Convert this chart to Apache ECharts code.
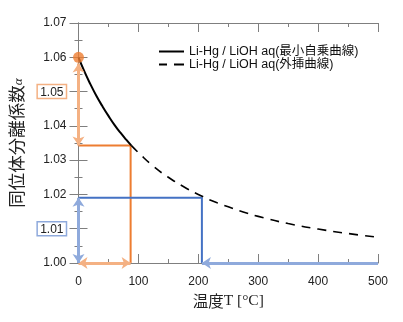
<!DOCTYPE html>
<html><head><meta charset="utf-8">
<script src="https://cdn.jsdelivr.net/npm/echarts@6/dist/echarts.min.js"></script>
<style>html,body{margin:0;padding:0;background:#fff}#c{width:403px;height:322px}</style>
</head><body><div id="c"></div>
<script>
// ---- data ----
const solidT = [0, 10, 20, 30, 40, 50, 60, 70, 80, 88];
const solidA = [1.0600, 1.0558, 1.0521, 1.0487, 1.0457, 1.0429, 1.0403, 1.0380, 1.0359, 1.0343];
const dashT = [88, 100, 125, 150, 175, 200, 225, 250, 275, 300, 350, 400, 450, 500];
const dashA = [1.0343, 1.0322, 1.0282, 1.0250, 1.0223, 1.0200, 1.0180, 1.0164, 1.0149, 1.0136, 1.0115, 1.0099, 1.0086, 1.0075];
const orangeT = [0, 87, 87];
const orangeA = [1.0343, 1.0343, 1.00];
const blueT = [0, 206, 206];
const blueA = [1.019, 1.019, 1.00];
const dotT = [0];
const dotA = [1.06];
const xTicks = [0, 100, 200, 300, 400, 500];
const yTicks = ['1.00', '1.01', '1.02', '1.03', '1.04', '1.05', '1.06', '1.07'];
const legendNames = ['Li-Hg / LiOH aq(最小自乗曲線)', 'Li-Hg / LiOH aq(外挿曲線)'];

const zip = (a, b) => a.map((v, i) => [v, b[i]]);
const ORANGE = '#ED7D31', BLUE = '#4472C4', LORANGE = '#F4B183', LBLUE = '#8FAADC';
const AX = '#7f7f7f';
const FONT = 'Liberation Sans, Arial, Noto Sans CJK JP, sans-serif';

const chart = echarts.init(document.getElementById('c'), null, {renderer: 'canvas'});
const xBase = {
  type: 'value', min: xTicks[0], max: xTicks[xTicks.length - 1], interval: 100,
  splitLine: {show: false},
  axisLine: {lineStyle: {color: AX, width: 1}},
  axisTick: {inside: true, length: 9, lineStyle: {color: AX}},
  minorTick: {show: true, splitNumber: 2, length: 4, lineStyle: {color: AX}},
};
const yBase = {
  type: 'value', min: 1.00, max: 1.07, interval: 0.01,
  splitLine: {show: false},
  axisLine: {lineStyle: {color: AX, width: 1}},
  axisTick: {inside: true, length: 9, lineStyle: {color: AX}},
  minorTick: {show: true, splitNumber: 2, length: 4, lineStyle: {color: AX}},
};
chart.setOption({
  animation: false,
  backgroundColor: '#fff',
  grid: {left: 78, right: 25, top: 23, bottom: 59},
  legend: {
    orient: 'vertical', left: 154, top: 40,
    itemWidth: 25, itemHeight: 2, itemGap: 0,
    textStyle: {fontSize: 12.5, color: '#111', fontFamily: FONT, lineHeight: 13},
    data: [
      {name: legendNames[0], icon: 'path://M0,0H25V2H0Z'},
      {name: legendNames[1], icon: 'path://M0,0H8V2H0ZM15,0H25V2H15Z'}
    ]
  },
  xAxis: [
    Object.assign({}, xBase, {
      position: 'bottom',
      axisLabel: {margin: 13, fontSize: 12, color: '#222', fontFamily: FONT, formatter: v => String(v)},
      name: '{a|温度}{b|T [°C]}', nameLocation: 'middle', nameGap: 30,
      nameTextStyle: {rich: {
        a: {fontSize: 15.5, fontFamily: 'Noto Sans CJK JP', color: '#222'},
        b: {fontSize: 15.5, fontFamily: 'Liberation Serif', color: '#222'}
      }}
    }),
    Object.assign({}, xBase, {position: 'top', axisLabel: {show: false}})
  ],
  yAxis: [
    Object.assign({}, yBase, {
      position: 'left',
      axisLabel: {
        margin: 12, fontSize: 12, color: '#222', fontFamily: FONT,
        formatter: v => {
          const s = v.toFixed(2);
          const i = yTicks.indexOf(s);
          const t = i >= 0 ? yTicks[i] : s;
          if (s === '1.05') return '{o|' + t + '}';
          if (s === '1.01') return '{b|' + t + '}';
          return t;
        },
        rich: {
          o: {fontSize: 12, color: '#222', fontFamily: FONT, borderColor: LORANGE, borderWidth: 1.5, padding: [2, 3, 0, 3]},
          b: {fontSize: 12, color: '#222', fontFamily: FONT, borderColor: LBLUE, borderWidth: 1.5, padding: [2, 3, 0, 3]}
        }
      },
      name: '{a|同位体分離係数}{g|α}', nameLocation: 'middle', nameRotate: 90, nameGap: 43,
      nameTextStyle: {rich: {
        a: {fontSize: 17.5, fontFamily: 'Noto Sans CJK JP', color: '#222'},
        g: {fontSize: 13, fontFamily: 'Liberation Serif', fontStyle: 'italic', color: '#222', verticalAlign: 'bottom'}
      }}
    }),
    Object.assign({}, yBase, {position: 'right', axisLabel: {show: false}})
  ],
  series: [
    {name: 'orangeGuide', type: 'line', data: zip(orangeT, orangeA), symbol: 'none', clip: false,
     lineStyle: {color: ORANGE, width: 2}, z: 3},
    {name: 'blueGuide', type: 'line', data: zip(blueT, blueA), symbol: 'none', clip: false,
     lineStyle: {color: BLUE, width: 2}, z: 3},
    {name: legendNames[0], type: 'line', data: zip(solidT, solidA), symbol: 'none', smooth: true,
     lineStyle: {color: '#000', width: 2}, itemStyle: {color: '#000'}, z: 4},
    {name: legendNames[1], type: 'line', data: zip(dashT, dashA), symbol: 'none', smooth: true,
     lineStyle: {color: '#000', width: 1.6, type: [9, 7]}, itemStyle: {color: '#000'}, z: 4},
    {name: 'arrowsOrange', type: 'lines', coordinateSystem: 'cartesian2d', clip: false, z: 5,
     symbol: ['arrow', 'arrow'], symbolSize: 9,
     lineStyle: {color: LORANGE, width: 3, opacity: 1},
     data: [
       {coords: [[dotT[0], 1.0582], [orangeT[0], orangeA[0]]]},
       {coords: [[orangeT[0], orangeA[2]], [orangeT[1], orangeA[2]]]}
     ]},
    {name: 'arrowsBlue', type: 'lines', coordinateSystem: 'cartesian2d', clip: false, z: 5,
     symbol: ['arrow', 'arrow'], symbolSize: 9,
     lineStyle: {color: LBLUE, width: 3, opacity: 1},
     data: [
       {coords: [[blueT[0], blueA[0]], [blueT[0], blueA[2]]]}
     ]},
    {name: 'arrowBlueH', type: 'lines', coordinateSystem: 'cartesian2d', clip: false, z: 5,
     symbol: ['none', 'arrow'], symbolSize: 9,
     lineStyle: {color: LBLUE, width: 3, opacity: 1},
     data: [
       {coords: [[xTicks[xTicks.length - 1], blueA[2]], [blueT[1], blueA[2]]]}
     ]},
    {name: 'dot', type: 'scatter', data: zip(dotT, dotA), symbolSize: 11, clip: false,
     itemStyle: {color: ORANGE}, z: 6}
  ]
});
</script></body></html>
